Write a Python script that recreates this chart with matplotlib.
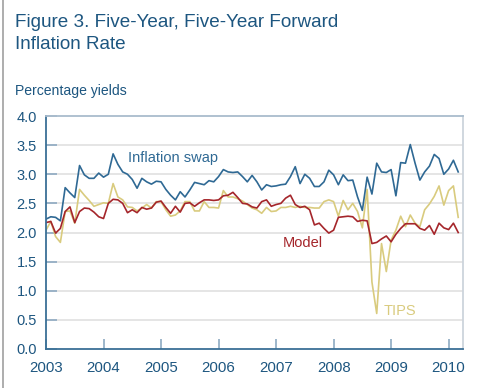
import numpy as np
import matplotlib
matplotlib.use("Agg")
import matplotlib.pyplot as plt
from matplotlib.lines import Line2D

plt.rcParams['font.family'] = ['Liberation Sans', 'DejaVu Sans']

# monthly, Jan 2003 .. Mar 2010
start_year = 2003
swap = [2.23, 2.27, 2.26, 2.20, 2.77, 2.68, 2.60, 3.15, 2.99, 2.93, 2.93, 3.02,
        2.95, 3.00, 3.35, 3.17, 3.04, 3.00, 2.91, 2.76, 2.93, 2.87, 2.83, 2.88,
        2.87, 2.74, 2.64, 2.56, 2.70, 2.61, 2.73, 2.86, 2.84, 2.82, 2.89, 2.87,
        2.96, 3.08, 3.04, 3.03, 3.04, 2.96, 2.87, 2.98, 2.87, 2.73, 2.82, 2.79,
        2.80, 2.82, 2.83, 2.96, 3.13, 2.84, 3.00, 2.93, 2.79, 2.79, 2.87, 3.07,
        2.99, 2.82, 2.99, 2.89, 2.90, 2.61, 2.38, 2.95, 2.66, 3.19, 3.04, 3.03,
        3.08, 2.63, 3.20, 3.19, 3.51, 3.19, 2.90, 3.04, 3.14, 3.34, 3.27, 3.00,
        3.09, 3.24, 3.04]
model = [2.17, 2.19, 1.99, 2.07, 2.36, 2.44, 2.17, 2.36, 2.42, 2.41, 2.35, 2.27,
         2.24, 2.50, 2.57, 2.56, 2.50, 2.34, 2.39, 2.34, 2.43, 2.40, 2.42, 2.52,
         2.54, 2.43, 2.33, 2.45, 2.35, 2.50, 2.51, 2.45, 2.51, 2.56, 2.56, 2.55,
         2.56, 2.63, 2.64, 2.69, 2.60, 2.50, 2.49, 2.44, 2.42, 2.53, 2.56, 2.45,
         2.48, 2.50, 2.59, 2.64, 2.48, 2.43, 2.45, 2.39, 2.13, 2.16, 2.07, 1.99,
         2.04, 2.26, 2.27, 2.28, 2.27, 2.19, 2.21, 2.20, 1.81, 1.83, 1.89, 1.94,
         1.84, 1.97, 2.07, 2.15, 2.15, 2.15, 2.07, 2.04, 2.12, 1.97, 2.16, 2.08,
         2.05, 2.16, 2.00]
tips = [2.04, 2.19, 1.93, 1.83, 2.36, 2.37, 2.16, 2.74, 2.64, 2.55, 2.45, 2.48,
        2.51, 2.50, 2.84, 2.61, 2.56, 2.44, 2.43, 2.37, 2.42, 2.48, 2.42, 2.53,
        2.53, 2.39, 2.28, 2.30, 2.37, 2.53, 2.53, 2.37, 2.37, 2.53, 2.43, 2.43,
        2.42, 2.72, 2.61, 2.61, 2.58, 2.54, 2.48, 2.42, 2.39, 2.33, 2.43, 2.36,
        2.37, 2.43, 2.43, 2.45, 2.43, 2.45, 2.43, 2.43, 2.42, 2.42, 2.53, 2.56,
        2.53, 2.28, 2.55, 2.39, 2.50, 2.36, 2.08, 2.74, 1.15, 0.61, 1.81, 1.33,
        1.87, 2.04, 2.28, 2.10, 2.30, 2.16, 2.10, 2.39, 2.49, 2.62, 2.80, 2.47,
        2.72, 2.80, 2.26]
year_ticks = list(range(2003, 2011))
y_ticks = [0.0, 0.5, 1.0, 1.5, 2.0, 2.5, 3.0, 3.5, 4.0]

dark = '#1d5680'
c_swap = '#2f6994'
c_model = '#a5262b'
c_tips = '#d9cb7e'

t = start_year + np.arange(len(swap)) / 12.0

fig = plt.figure(figsize=(4.87, 3.88), dpi=100)
ax = fig.add_axes([46/487, 1-349/388, (463-46)/487, (349-116)/388])

for yv in y_ticks[1:-1]:
    ax.axhline(yv, color='#e3e3e3', lw=1.3, zorder=0)

ax.plot(t, tips, color=c_tips, lw=1.2)
ax.plot(t, model, color=c_model, lw=1.2)
ax.plot(t, swap, color=c_swap, lw=1.2)

ax.set_xlim(2003, 2010.25)
ax.set_ylim(0, 4)
ax.set_xticks(year_ticks)
ax.set_xticklabels([str(y) for y in year_ticks])
ax.set_yticks(y_ticks)
ax.set_yticklabels(['%.1f' % v for v in y_ticks])

ax.tick_params(axis='y', direction='in', length=8, width=1.2, color='#8eaac2',
               labelsize=10.5, labelcolor=dark, pad=6.5)
ax.tick_params(axis='x', direction='in', length=7, width=1.2, color='#8eaac2',
               labelsize=10.8, labelcolor=dark, pad=8.5)

ax.spines['left'].set_color('#3a6f96')
ax.spines['bottom'].set_color('#3a6f96')
ax.spines['left'].set_linewidth(1.3)
ax.spines['bottom'].set_linewidth(1.3)
ax.spines['top'].set_color('#a9bccd')
ax.spines['right'].set_color('#cdd4dc')
ax.spines['top'].set_linewidth(1.3)
ax.spines['right'].set_linewidth(1.3)

ax.text(2004.43, 3.28, 'Inflation swap', color=c_swap, fontsize=10.5, va='center', ha='left')
ax.text(2007.46, 1.82, 'Model', color=c_model, fontsize=10.5, va='center', ha='center')
ax.text(2008.87, 0.66, 'TIPS', color=c_tips, fontsize=10.5, va='center', ha='left')

fig.text(15/487, 1-27/388, 'Figure 3. Five-Year, Five-Year Forward', color=dark,
         fontsize=13.6, va='baseline', ha='left')
fig.text(15/487, 1-49/388, 'Inflation Rate', color=dark, fontsize=13.6,
         va='baseline', ha='left')
fig.text(15/487, 1-95/388, 'Percentage yields', color=dark, fontsize=10.1,
         va='baseline', ha='left')

fig.add_artist(Line2D([3/487, 3/487], [0, 1], transform=fig.transFigure,
                      color='#a0a0a0', lw=1.2))

fig.savefig('out.png', dpi=100)
